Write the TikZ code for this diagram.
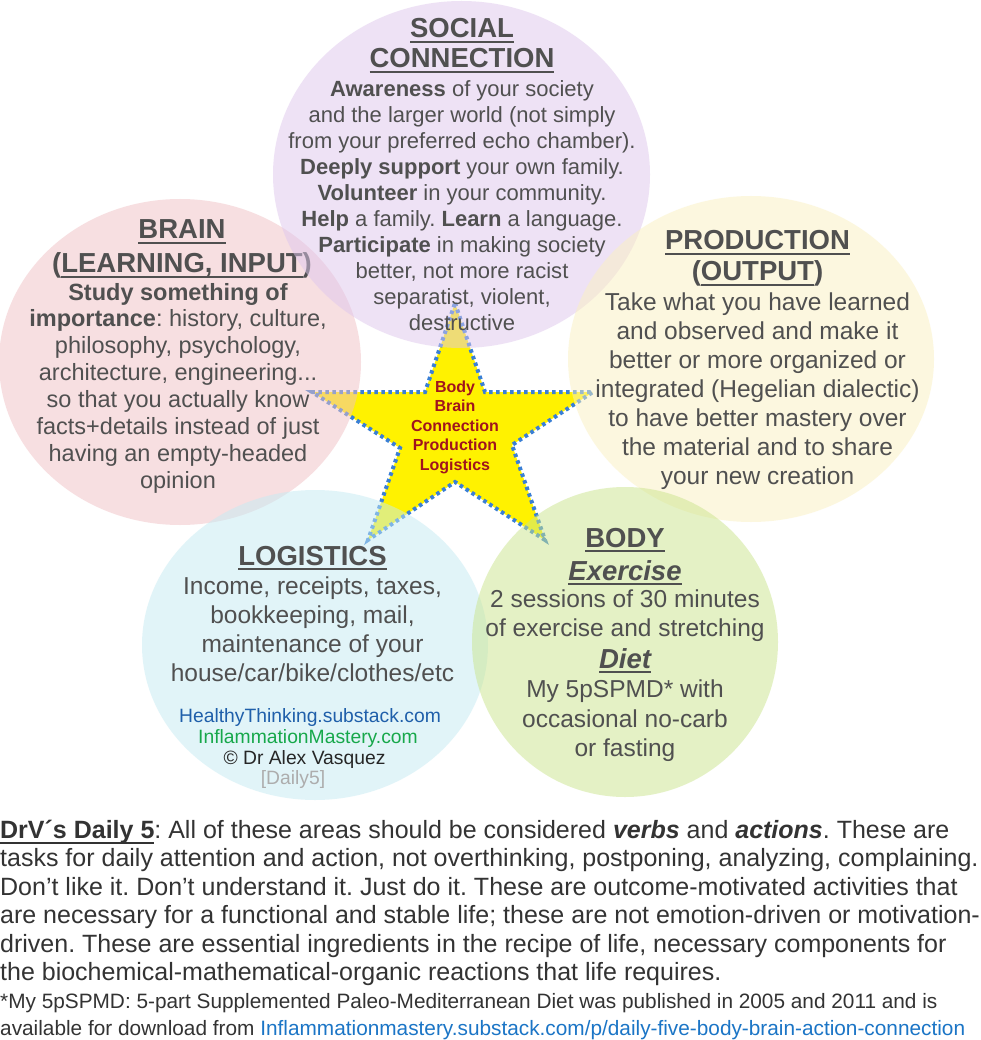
\documentclass[tikz,border=0pt]{standalone}
\usepackage{fontspec}
\setmainfont{Liberation Sans}
\frenchspacing
\definecolor{txtc}{HTML}{505050}
\definecolor{paratxt}{HTML}{333333}
\definecolor{socc}{HTML}{DFC7ED}
\definecolor{brainc}{HTML}{F1C1C5}
\definecolor{prodc}{HTML}{FBF1C1}
\definecolor{logc}{HTML}{C5EBF3}
\definecolor{bodyc}{HTML}{CBE58D}
\definecolor{starblue}{HTML}{3A7FD5}
\definecolor{starred}{HTML}{A0141E}
\definecolor{htblue}{HTML}{1F5FAA}
\definecolor{imgreen}{HTML}{17A84B}
\definecolor{linkblue}{HTML}{1B75C6}
\newsavebox\ulb
\newcommand\ulin[1]{\sbox\ulb{#1}\rlap{\rule[-5.4pt]{\wd\ulb}{2pt}}\usebox\ulb}
\begin{document}
\begin{tikzpicture}[x=1pt,y=-1pt,
  txt/.style={text=txtc, inner sep=0pt, outer sep=0pt, align=center},
  hd/.style={txt, font=\fontsize{27.5}{#1}\selectfont\bfseries},
  hd/.default=31,
  circ/.style={fill=#1, fill opacity=0.5},
  body/.style={txt, font=\fontsize{#1}{29}\selectfont},
  body/.default=24.5,
  small/.style={txt, anchor=base, font=\fontsize{19.3}{21}\selectfont}]
\fill[white] (0,0) rectangle (980,1040);
\path[use as bounding box] (0,0) rectangle (980,1040);

% star (beneath the circles)
\filldraw[fill=yellow, draw=starblue, line width=4pt, dash pattern=on 3.5pt off 3.5pt]
  (455,303) -- (485,392) -- (593,392) -- (512,445) -- (545,540) -- (455,482)
  -- (368,540) -- (400,448) -- (312,392) -- (425,392) -- cycle;

% brain
\fill[circ=brainc] (180,362) ellipse [x radius=181, y radius=163];
\node[hd=34, anchor=north] (brainhd) at (182,219.3) {\ulin{BRAIN}\\(\ulin{LEARNING, INPUT})};
\node[txt, anchor=north, font=\fontsize{23.5}{26.9}\selectfont] (braintx) at (178,283)
  {\textbf{Study something of}\\\textbf{importance}: history, culture,\\philosophy, psychology,\\architecture, engineering...\\so that you actually know\\facts+details instead of just\\having an empty-headed\\opinion};

% social
\fill[circ=socc] (461.5,174.5) ellipse [x radius=188.5, y radius=173.5];
\node[hd=30, anchor=north] (sochd) at (462,18.6) {\ulin{SOCIAL}\\\ulin{CONNECTION}};
\node[txt, anchor=north, font=\fontsize{22}{26}\selectfont] (soctx) at (462,81)
  {\textbf{Awareness} of your society\\and the larger world (not simply\\from your preferred echo chamber).\\\textbf{Deeply support} your own family.\\\textbf{Volunteer} in your community.\\\textbf{Help} a family. \textbf{Learn} a language.\\\textbf{Participate} in making society\\better, not more racist\\separatist, violent,\\destructive};

% production
\fill[circ=prodc] (751,359) ellipse [x radius=183, y radius=163];
\node[hd=31, anchor=north] (prodhd) at (757.5,230.3) {\ulin{PRODUCTION}\\(\ulin{OUTPUT})};
\node[body, anchor=north] (prodtx) at (757.5,293)
  {Take what you have learned\\and observed and make it\\better or more organized or\\integrated (Hegelian dialectic)\\to have better mastery over\\the material and to share\\your new creation};

% logistics
\fill[circ=logc] (315,645) ellipse [x radius=173, y radius=155];
\node[hd, anchor=base] (loghd) at (312.5,565) {\ulin{LOGISTICS}};
\node[body, anchor=north] (logtx) at (312.5,577)
  {Income, receipts, taxes,\\bookkeeping, mail,\\maintenance of your\\house/car/bike/clothes/etc};
\node[small, text=htblue] (ht) at (310,722) {HealthyThinking.substack.com};
\node[small, text=imgreen] (im) at (308,743) {InflammationMastery.com};
\node[small, text=black!85] (cr) at (304.5,764) {© Dr Alex Vasquez};
\node[small, text=black!32] (d5) at (293,784) {[Daily5]};

% body
\fill[circ=bodyc] (625,642) ellipse [x radius=153, y radius=155];
\node[hd, anchor=base] (bodyhd) at (625,547) {\ulin{BODY}};
\node[hd, anchor=base] (exhd) at (625,580) {\ulin{\itshape Exercise}};
\node[body, anchor=north] (extx) at (625,590.1) {2 sessions of 30 minutes\\of exercise and stretching};
\node[hd, anchor=base] (diethd) at (625,668) {\ulin{\itshape Diet}};
\node[body, anchor=north, font=\fontsize{24.5}{29.5}\selectfont] (diettx) at (625,680.1) {My 5pSPMD* with\\occasional no-carb\\or fasting};

% star text
\node[txt, anchor=north, text=starred, font=\bfseries\fontsize{16}{19.6}\selectfont] (startx) at (455,380.5)
  {Body\\Brain\\Connection\\Production\\Logistics};

% paragraph
\node[anchor=north west, inner sep=0pt, align=left, text=paratxt, font=\fontsize{25}{28.5}\selectfont] (para) at (0,819.8)
  {\textbf{\ulin{DrV´s Daily 5}}: All of these areas should be considered \textbf{\textit{verbs}} and \textbf{\textit{actions}}. These are\\
   tasks for daily attention and action, not overthinking, postponing, analyzing, complaining.\\
   Don’t like it. Don’t understand it. Just do it. These are outcome-motivated activities that\\
   are necessary for a functional and stable life; these are not emotion-driven or motivation-\\
   driven. These are essential ingredients in the recipe of life, necessary components for\\
   the biochemical-mathematical-organic reactions that life requires.};
\node[anchor=north west, inner sep=0pt, align=left, text=paratxt, font=\fontsize{20.8}{27}\selectfont] (foot) at (0,993)
  {*My 5pSPMD: 5-part Supplemented Paleo-Mediterranean Diet was published in 2005 and 2011 and is\\
   available for download from \textcolor{linkblue}{Inflammationmastery.substack.com/p/daily-five-body-brain-action-connection}};
\end{tikzpicture}
\end{document}
